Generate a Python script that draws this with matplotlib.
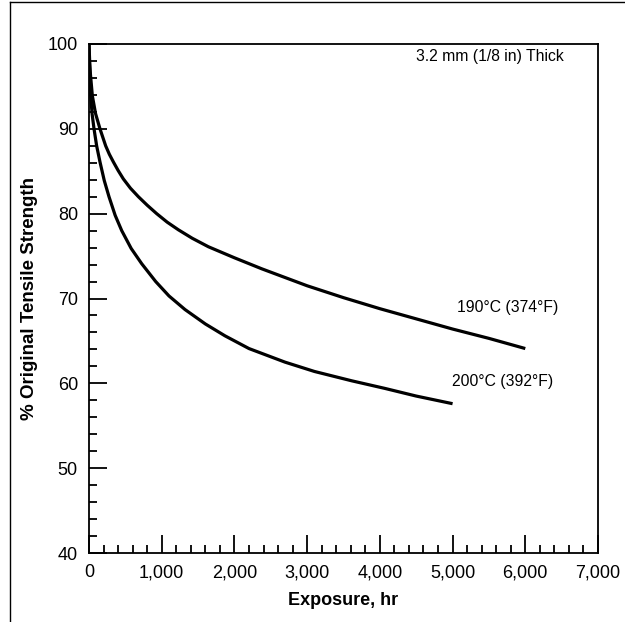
import matplotlib.pyplot as plt
from matplotlib.lines import Line2D
from matplotlib.ticker import MultipleLocator, FuncFormatter

plt.rcParams['font.family'] = ['Liberation Sans', 'DejaVu Sans']

# 190 C curve
hours_190 = [0, 8, 20, 46, 90, 151, 190, 229, 280, 335, 400, 472, 570, 679,
             800, 931, 1075, 1229, 1420, 1642, 2000, 2376, 3000, 3500, 4000,
             4500, 5000, 5500, 6000]
strength_190 = [100, 98.2, 96.4, 93.9, 91.8, 90.0, 89.0, 88.0, 87.0, 86.1,
                85.1, 84.1, 83.0, 82.0, 81.0, 80.0, 79.0, 78.1, 77.1, 76.1,
                74.8, 73.5, 71.5, 70.1, 68.8, 67.6, 66.4, 65.3, 64.1]

# 200 C curve
hours_200 = [0, 5, 12, 23, 42, 69, 105, 151, 210, 275, 360, 450, 580, 725,
             917, 1100, 1320, 1600, 1870, 2200, 2695, 3100, 3612, 4070, 4500,
             5000]
strength_200 = [100, 98.0, 96.0, 93.9, 91.8, 90.0, 88.0, 86.1, 83.9, 82.0,
                79.8, 78.0, 75.9, 74.1, 72.0, 70.3, 68.7, 67.0, 65.6, 64.1,
                62.5, 61.4, 60.3, 59.4, 58.5, 57.6]

fig = plt.figure(figsize=(6.25, 6.22), dpi=100)
ax = fig.add_axes([89 / 625, 1 - 553 / 622, 509 / 625, 509 / 622])

ax.plot(hours_190, strength_190, color='black', lw=2.3, solid_capstyle='butt')
ax.plot(hours_200, strength_200, color='black', lw=2.3, solid_capstyle='butt')

ax.set_xlim(0, 7000)
ax.set_ylim(40, 100)
ax.xaxis.set_major_locator(MultipleLocator(1000))
ax.xaxis.set_minor_locator(MultipleLocator(200))
ax.yaxis.set_major_locator(MultipleLocator(10))
ax.yaxis.set_minor_locator(MultipleLocator(2))
ax.xaxis.set_major_formatter(FuncFormatter(lambda v, p: f"{int(v):,}"))
ax.tick_params(which='major', direction='in', length=13, width=1.3, labelsize=13, pad=8)
ax.tick_params(which='minor', direction='in', length=6, width=1.3)
for s in ax.spines.values():
    s.set_linewidth(1.3)

ax.set_xlabel("Exposure, hr", fontsize=13, fontweight='bold', labelpad=8)
ax.set_ylabel("% Original Tensile Strength", fontsize=13.5, fontweight='bold', labelpad=7)

ax.text(5510, 98.5, "3.2 mm (1/8 in) Thick", fontsize=11.3, ha='center', va='center')
ax.text(5760, 68.9, "190°C (374°F)", fontsize=11.3, ha='center', va='center')
ax.text(5690, 60.2, "200°C (392°F)", fontsize=11.3, ha='center', va='center')

# outer frame lines
fig.add_artist(Line2D([10 / 625, 10 / 625], [0, 1 - 2 / 622], color='black', lw=1))
fig.add_artist(Line2D([10 / 625, 1], [1 - 2 / 622, 1 - 2 / 622], color='black', lw=1))

fig.savefig("out.png", dpi=100)
